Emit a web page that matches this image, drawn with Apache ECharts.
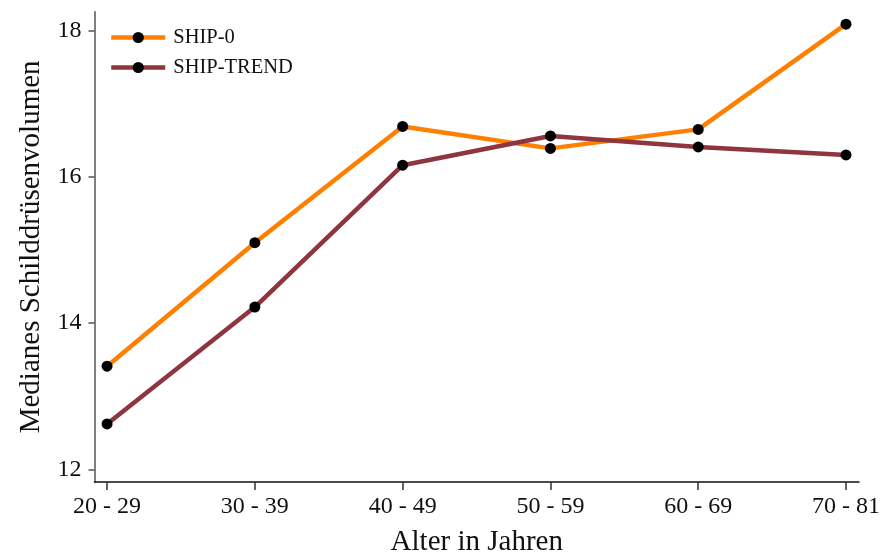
<!DOCTYPE html>
<html>
<head>
<meta charset="utf-8">
<script src="https://cdn.jsdelivr.net/npm/echarts@6/dist/echarts.min.js"></script>
<style>html,body{margin:0;padding:0;background:#fff}#c{width:881px;height:553px}</style>
</head>
<body>
<div id="c"></div>
<script>
const categories = ["20 - 29", "30 - 39", "40 - 49", "50 - 59", "60 - 69", "70 - 81"];
const ship0 = [13.41, 15.10, 16.69, 16.39, 16.65, 18.09];
const shipTrend = [12.62, 14.22, 16.16, 16.56, 16.41, 16.30];
const yTicks = [12, 14, 16, 18];

const font = "Liberation Serif";
const chart = echarts.init(document.getElementById('c'), null, {renderer: 'canvas'});
const idx = categories.map((_, i) => i);
function pairs(vals) { return vals.map((v, i) => [i, v]); }

chart.setOption({
  animation: false,
  backgroundColor: '#fff',
  textStyle: {fontFamily: font},
  grid: {left: 94.5, right: 22, top: 11.7, bottom: 71, containLabel: false, outerBoundsMode: 'none'},
  legend: {
    left: 104, top: 22, orient: 'vertical', itemGap: 9,
    itemWidth: 54, itemHeight: 14,
    lineStyle: {width: 4.5},
    textStyle: {fontFamily: font, fontSize: 20.5, color: '#111', padding: [0, 0, 0, 3]},
    data: ['SHIP-0', 'SHIP-TREND']
  },
  xAxis: {
    type: 'value', min: -0.085, max: 5.088,
    name: 'Alter in Jahren', nameLocation: 'middle', nameGap: 46,
    nameTextStyle: {fontFamily: font, fontSize: 29, color: '#111'},
    axisLine: {show: true, onZero: false, lineStyle: {color: '#111', width: 1.5}},
    axisTick: {show: true, customValues: idx, length: 8, lineStyle: {color: '#333', width: 1.5}},
    axisLabel: {show: true, customValues: idx, formatter: v => categories[Math.round(v)], fontFamily: font, fontSize: 24, color: '#111', margin: 13},
    splitLine: {show: false}
  },
  yAxis: {
    type: 'value', min: 11.826, max: 18.26,
    name: 'Medianes Schilddrüsenvolumen', nameLocation: 'middle', nameGap: 49, nameRotate: 90,
    nameTextStyle: {fontFamily: font, fontSize: 29, color: '#111'},
    axisLine: {show: true, onZero: false, lineStyle: {color: '#555', width: 1.5}},
    axisTick: {show: true, customValues: yTicks, length: 6, lineStyle: {color: '#555', width: 1.5}},
    axisLabel: {show: true, customValues: yTicks, fontFamily: font, fontSize: 24, color: '#111', margin: 13},
    splitLine: {show: false}
  },
  series: [
    {
      name: 'SHIP-0', type: 'line', data: pairs(ship0),
      symbol: 'circle', symbolSize: 11, showAllSymbol: true,
      lineStyle: {color: '#FF8000', width: 4.5},
      itemStyle: {color: '#000', borderWidth: 0},
      z: 2
    },
    {
      name: 'SHIP-TREND', type: 'line', data: pairs(shipTrend),
      symbol: 'circle', symbolSize: 11, showAllSymbol: true,
      lineStyle: {color: '#8E3540', width: 4.5},
      itemStyle: {color: '#000', borderWidth: 0},
      z: 3
    }
  ]
});
</script>
</body>
</html>
